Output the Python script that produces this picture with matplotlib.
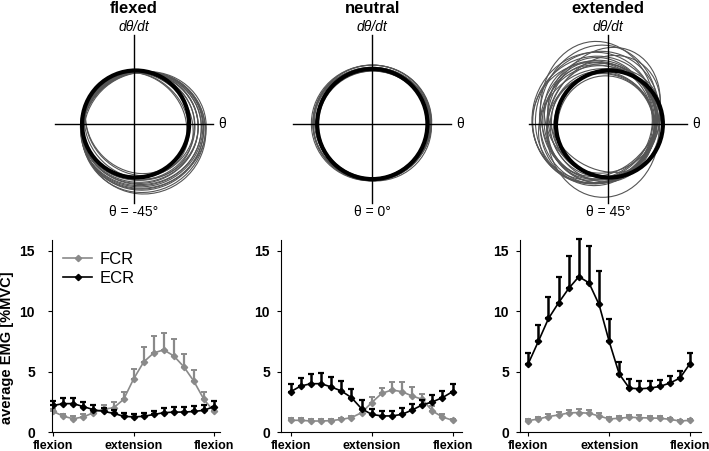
import numpy as np
import matplotlib
matplotlib.use('Agg')
import matplotlib.pyplot as plt
from matplotlib.patches import Ellipse, Circle
from matplotlib.lines import Line2D

plt.rcParams['font.family'] = ['Liberation Sans', 'DejaVu Sans']

# ---- EMG data: 17 phase bins, flexion -> extension -> flexion
phase = np.arange(17)
tick_pos = [0, 8, 16]
tick_lab = ['flexion', 'extension', 'flexion']

fcr_flexed = [1.7, 1.3, 1.1, 1.25, 1.6, 1.9, 2.0, 2.7, 4.4, 5.8, 6.55, 6.8, 6.3, 5.4, 4.2, 2.7, 1.7]
fcr_flexed_err = [0.2, 0.2, 0.2, 0.25, 0.3, 0.3, 0.5, 0.65, 0.85, 1.2, 1.4, 1.4, 1.4, 1.1, 0.9, 0.6, 0.3]
ecr_flexed = [2.2, 2.35, 2.35, 2.1, 1.85, 1.7, 1.55, 1.3, 1.25, 1.3, 1.45, 1.6, 1.65, 1.65, 1.7, 1.8, 2.1]
ecr_flexed_err = [0.4, 0.5, 0.5, 0.4, 0.35, 0.3, 0.3, 0.3, 0.28, 0.3, 0.33, 0.35, 0.38, 0.38, 0.42, 0.42, 0.5]

fcr_neutral = [0.97, 0.97, 0.91, 0.91, 0.94, 1.05, 1.19, 1.6, 2.43, 3.2, 3.48, 3.34, 2.98, 2.71, 1.74, 1.24, 0.97]
fcr_neutral_err = [0.15, 0.15, 0.15, 0.15, 0.15, 0.15, 0.15, 0.28, 0.5, 0.42, 0.69, 0.8, 0.75, 0.47, 0.41, 0.22, 0.12]
ecr_neutral = [3.34, 3.81, 4.0, 4.0, 3.73, 3.4, 2.85, 1.93, 1.46, 1.33, 1.33, 1.46, 1.82, 2.24, 2.49, 2.85, 3.34]
ecr_neutral_err = [0.65, 0.7, 0.8, 0.85, 0.85, 0.8, 0.75, 0.75, 0.45, 0.45, 0.45, 0.5, 0.5, 0.45, 0.55, 0.55, 0.65]

fcr_extended = [0.94, 1.08, 1.28, 1.41, 1.58, 1.61, 1.55, 1.33, 1.08, 1.14, 1.22, 1.19, 1.16, 1.14, 1.05, 0.91, 0.97]
fcr_extended_err = [0.12, 0.15, 0.2, 0.28, 0.25, 0.3, 0.28, 0.22, 0.15, 0.19, 0.19, 0.19, 0.19, 0.19, 0.15, 0.12, 0.12]
ecr_extended = [5.66, 7.51, 9.4, 10.7, 11.89, 12.86, 12.36, 10.56, 7.51, 4.8, 3.63, 3.58, 3.63, 3.77, 4.05, 4.46, 5.66]
ecr_extended_err = [0.88, 1.31, 1.8, 2.14, 2.69, 3.11, 3.05, 2.77, 1.86, 0.97, 0.75, 0.66, 0.61, 0.55, 0.61, 0.61, 0.88]

# ---- phase portrait loops (ellipse centre, width, height, angle), unit circle = reference
flexed_cx = [0.10, 0.13, 0.16, 0.18, 0.12, 0.15, 0.20, 0.08, 0.04, 0.06, 0.09, 0.14, 0.17, 0.11, 0.19, 0.07]
flexed_cy = [-0.06, -0.09, -0.12, -0.15, -0.04, -0.10, -0.17, -0.02, 0.02, 0.00, -0.03, -0.08, -0.13, -0.07, -0.11, -0.05]
flexed_w = [2.20, 2.26, 2.30, 2.32, 2.16, 2.28, 2.30, 2.10, 2.02, 2.06, 2.12, 2.24, 2.28, 2.18, 2.34, 2.14]
flexed_h = [2.06, 2.12, 2.18, 2.24, 2.02, 2.14, 2.26, 1.96, 1.76, 1.80, 1.90, 2.10, 2.20, 2.08, 2.16, 2.00]
flexed_ang = [0, 10, 20, 30, 0, 15, 40, 0, 135, 135, 140, 5, 25, 10, 20, 0]

neutral_cx = [0.00, 0.02, -0.02, 0.01, -0.01, 0.03, 0.00, -0.03, 0.02, 0.01, -0.02, 0.00]
neutral_cy = [0.00, 0.01, -0.01, 0.02, 0.00, -0.02, 0.03, 0.01, -0.01, 0.04, 0.02, -0.02]
neutral_w = [2.10, 2.14, 2.18, 2.12, 2.20, 2.16, 2.22, 2.14, 2.06, 2.18, 2.24, 2.10]
neutral_h = [2.04, 2.08, 2.10, 2.06, 2.12, 2.08, 2.14, 2.06, 2.00, 2.12, 2.16, 2.02]
neutral_ang = [0, 10, -10, 20, 0, -20, 5, 15, 0, -5, 10, 0]

extended_cx = [-0.15, -0.20, -0.10, -0.25, -0.05, -0.18, -0.12, -0.22, -0.08, -0.30, -0.14, -0.02, -0.19, -0.11, -0.27, -0.06, -0.16, -0.09, -0.21, -0.13, -0.10]
extended_cy = [0.05, 0.12, 0.00, 0.08, -0.05, 0.18, 0.10, 0.02, 0.15, 0.05, -0.08, 0.06, 0.22, -0.02, 0.12, 0.10, 0.03, 0.20, -0.04, 0.08, -0.12]
extended_w = [2.10, 2.30, 1.90, 2.40, 1.80, 2.20, 2.00, 2.35, 1.95, 2.25, 2.05, 1.85, 2.15, 1.95, 2.30, 1.88, 2.12, 2.02, 2.28, 1.98, 2.10]
extended_h = [2.20, 2.50, 2.00, 2.30, 1.90, 2.60, 2.30, 2.10, 2.40, 2.20, 2.00, 2.10, 2.65, 1.95, 2.45, 2.25, 2.15, 2.55, 2.05, 2.35, 2.50]
extended_ang = [10, -20, 30, 60, 0, -10, 45, 80, -35, 20, 70, -50, 5, 35, -15, 55, 90, -25, 40, 15, 0]

titles = ['flexed', 'neutral', 'extended']
angle_labels = ['θ = -45°', 'θ = 0°', 'θ = 45°']
loops = [
    (flexed_cx, flexed_cy, flexed_w, flexed_h, flexed_ang),
    (neutral_cx, neutral_cy, neutral_w, neutral_h, neutral_ang),
    (extended_cx, extended_cy, extended_w, extended_h, extended_ang),
]
ref_radius = [1.0, 1.03, 1.0]
ref_cx = [0.03, 0.0, 0.02]

emg = [
    (fcr_flexed, fcr_flexed_err, ecr_flexed, ecr_flexed_err),
    (fcr_neutral, fcr_neutral_err, ecr_neutral, ecr_neutral_err),
    (fcr_extended, fcr_extended_err, ecr_extended, ecr_extended_err),
]

W, H = 709, 451
fig = plt.figure(figsize=(W / 100, H / 100), dpi=100)

# top row: phase portraits
centres = [134, 372.3, 608.3]
for i, cxp in enumerate(centres):
    ax = fig.add_axes([(cxp - 90) / W, (H - 124 - 90) / H, 180 / W, 180 / H])
    ax.set_xlim(-1.682, 1.682)
    ax.set_ylim(-1.682, 1.682)
    ax.set_aspect('equal')
    ax.axis('off')
    cx, cy, w, h, a = loops[i]
    for j in range(len(cx)):
        ax.add_patch(Ellipse((cx[j], cy[j]), w[j], h[j], angle=a[j], fill=False,
                             edgecolor='#555555', lw=0.8))
    ax.add_patch(Circle((ref_cx[i], 0), ref_radius[i], fill=False, edgecolor='black', lw=3.0, zorder=3))
    ax.plot([-1.48, 1.48], [0, 0], color='black', lw=1.0, zorder=4)
    ax.plot([0, 0], [-1.48, 1.66], color='black', lw=1.0, zorder=4)
    ax.text(0, 2.07, titles[i], ha='center', va='baseline', fontsize=12, fontweight='bold')
    ax.text(0, 1.73, r'dθ/dt', ha='center', va='baseline', fontsize=10, style='italic')
    ax.text(1.57, 0, 'θ', ha='left', va='center', fontsize=10)
    ax.text(0, -1.72, angle_labels[i], ha='center', va='baseline', fontsize=10)

# bottom row: EMG
bottom_boxes = [(51.7, 220, -0.16, 16.6), (281, 461.7, -0.96, 16.9), (520, 700.7, -0.82, 17.06)]
ypads = [9, 5, 5]
gray = '#8a8a8a'
for i, (x0, x1, xl, xr) in enumerate(bottom_boxes):
    ax = fig.add_axes([x0 / W, 19 / H, (x1 - x0) / W, 192 / H])
    fcr, fcr_e, ecr, ecr_e = emg[i]
    for vals, errs, col, ew, z in [(fcr, fcr_e, gray, 1.6, 2), (ecr, ecr_e, 'black', 1.8, 3)]:
        cont = ax.errorbar(phase, vals, yerr=[np.zeros(17), errs], fmt='-D', color=col, ms=3.2,
                           lw=1.2, elinewidth=ew, capsize=2.2, capthick=ew - 0.2, zorder=z)
        for art in cont.lines[1] + cont.lines[2]:
            art.set_clip_on(False)
    ax.set_xlim(xl, xr)
    ax.set_ylim(0, 15.9)
    ax.set_xticks(tick_pos)
    ax.set_xticklabels(tick_lab, fontsize=9, fontweight='bold')
    ax.set_yticks([0, 5, 10, 15])
    ax.set_yticklabels(['0', '5', '10', '15'], fontsize=10, fontweight='bold')
    ax.tick_params(axis='x', direction='out', length=3, width=0.8, pad=3)
    ax.tick_params(axis='y', direction='out', length=3, width=0.8, pad=ypads[i])
    ax.spines['top'].set_visible(False)
    ax.spines['right'].set_visible(False)
    if i == 0:
        handles = [Line2D([], [], color=gray, marker='D', ms=3.2, lw=1.2),
                   Line2D([], [], color='black', marker='D', ms=3.2, lw=1.2)]
        ax.legend(handles, ['FCR', 'ECR'], loc='upper left', bbox_to_anchor=(0.0, 1.0),
                  frameon=False, fontsize=12, handlelength=1.7, handletextpad=0.5,
                  labelspacing=0.25, borderaxespad=0.3)

fig.text(7.5 / W, (H - 348) / H, 'average EMG [%MVC]', rotation=90, ha='center', va='center',
         fontsize=10.5, fontweight='bold')

fig.savefig('out.png', dpi=100)
